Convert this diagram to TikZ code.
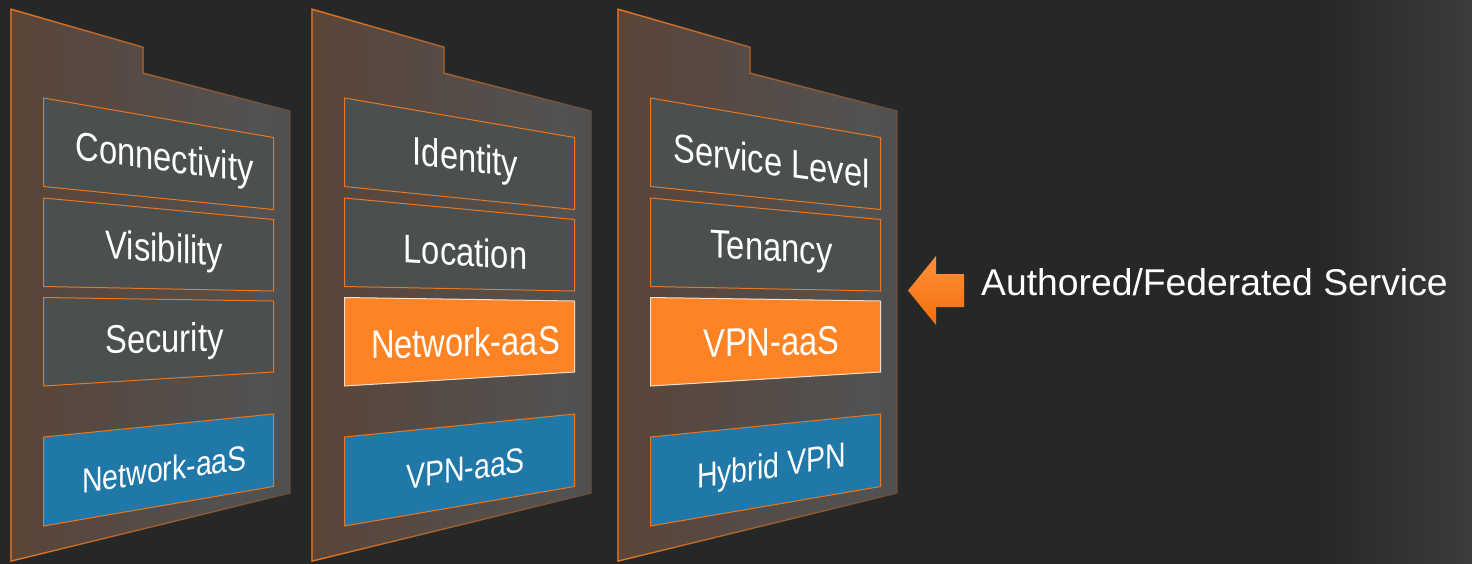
\documentclass[tikz,border=0pt]{standalone}
\usepackage{fontspec}
\setmainfont{Liberation Sans}
\usetikzlibrary{fadings}

\definecolor{bgdark}{RGB}{38,40,40}
\definecolor{bglight}{RGB}{60,60,60}
\definecolor{edgeorange}{RGB}{236,118,30}
\definecolor{edgedim}{RGB}{105,78,60}
\definecolor{tilegray}{RGB}{75,79,77}
\definecolor{tileblue}{RGB}{32,120,168}
\definecolor{tileorange}{RGB}{253,131,36}
\definecolor{tilerim}{RGB}{242,222,204}
\definecolor{arrowlight}{RGB}{255,145,60}
\definecolor{arrowdark}{RGB}{245,110,10}
\definecolor{pbrown}{RGB}{96,62,40}
\definecolor{pmid}{RGB}{86,74,68}
\definecolor{pgray}{RGB}{82,82,82}
\definecolor{pdark}{RGB}{62,62,62}

\pgfdeclarehorizontalshading{panelshade}{100bp}{color(0bp)=(pbrown); color(45bp)=(pmid); color(70bp)=(pgray); color(100bp)=(pdark)}

\begin{document}
\begin{tikzpicture}[
x=1pt, y=-1pt,
panel/.style={shading=panelshade, draw=edgedim, line width=1.3pt},
panelrim/.style={draw=edgeorange, line width=1.3pt, path fading=east},
graytile/.style={fill=tilegray, draw=edgeorange, line width=1pt},
orangetile/.style={fill=tileorange, draw=tilerim, line width=1pt},
bluetile/.style={fill=tileblue, draw=edgeorange, line width=1pt},
tiletext/.style={text=white, inner sep=0pt, yshift=-3pt, yscale=1.22},
arrowbody/.style={top color=arrowlight, bottom color=arrowdark},
caption/.style={text=white, font=\fontsize{37.3}{40}\selectfont, inner sep=0pt, anchor=base west}
]
\useasboundingbox (0,0) rectangle (1472,563);

% Background
\fill[bgdark] (-2,-2) rectangle (1474,565);
\shade[left color=bgdark, right color=bglight] (1322,-2) rectangle (1474,565);

% Panels
\foreach \px in {11,312,618}{
  \path[panel] (\px,9) -- ++(132,38) -- ++(0,26) -- ++(147,38) -- ++(0,382) -- ++(-279,68) -- cycle;
  \path[panelrim] (\px,9) -- ++(132,38) -- ++(0,26) -- ++(147,38) -- ++(0,382) -- ++(-279,68) -- cycle;
}

% Tiles, one row at a time
\foreach \ya/\yb/\yc/\yd/\sl/\fs/\tiles in {
  98/137.5/209.5/186.5/-0.11/32.7/{11/graytile/connect/Connectivity, 312/graytile/identity/Identity, 618/graytile/servlevel/Service Level},
  198/219.5/291/286.5/-0.05/32.7/{11/graytile/visible/Visibility, 312/graytile/location/Location, 618/graytile/tenancy/Tenancy},
  297.5/301/372/386/0.02/32.7/{11/graytile/security/Security, 312/orangetile/netaas/Network-aaS, 618/orangetile/vpnaas/VPN-aaS},
  437/414/486.5/526/0.12/28.5/{11/bluetile/netbase/Network-aaS, 312/bluetile/vpnbase/VPN-aaS, 618/bluetile/hybrid/Hybrid VPN}}{
  \foreach \px/\kind/\nm/\txt in \tiles{
    \draw[\kind] (\px+32.5,\ya) -- (\px+262.5,\yb) -- (\px+262.5,\yc) -- (\px+32.5,\yd) -- cycle;
    \node[tiletext, yslant=\sl, font=\fontsize{\fs}{\fs}\selectfont] (\nm) at (\px+153.5,{(\ya+\yb+\yc+\yd)/4}) {\txt};
  }
}

% Arrow and caption
\path[arrowbody] (908,290.5) -- (936,256) -- (936,274) -- (964,274) -- (964,307) -- (936,307) -- (936,325) -- cycle;
\node[caption] (fedservice) at (981,295.7) {Authored/Federated Service};

\end{tikzpicture}
\end{document}
